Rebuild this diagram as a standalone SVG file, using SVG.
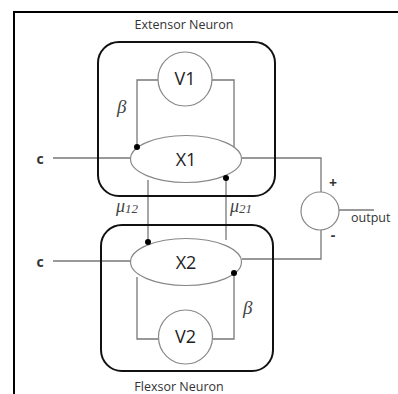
<svg xmlns="http://www.w3.org/2000/svg" width="398" height="394" viewBox="0 0 398 394">
<style>
.frame{fill:none;stroke:#000;stroke-width:2}
.box{fill:none;stroke:#111;stroke-width:2}
.shape{fill:#fff;stroke:#888;stroke-width:1.2}
.wire{fill:none;stroke:#777;stroke-width:1.3}
.dot{fill:#000}
.lbl{font-family:"Open Sans","Liberation Sans",sans-serif;fill:#333}
.node{font-family:"Open Sans","Liberation Sans",sans-serif;fill:#222;font-size:18px;text-anchor:middle}
.greek{font-family:"Liberation Serif",serif;font-style:italic;fill:#444}
</style>
<rect width="398" height="394" fill="#fff"/>
<path class="frame" d="M14,394 V12 H398"/>

<g id="connectors">
  <polyline class="wire" points="158,80 137,80 137,147"/>
  <polyline class="wire" points="212,80 234,80 234,148"/>
  <line class="wire" x1="53" y1="158" x2="131" y2="158"/>
  <line class="wire" x1="53" y1="261" x2="131" y2="261"/>
  <polyline class="wire" points="242,158 321,158 321,192"/>
  <polyline class="wire" points="242,259 321,259 321,230"/>
  <line class="wire" x1="148" y1="180" x2="148" y2="242"/>
  <line class="wire" x1="226" y1="178" x2="226" y2="240"/>
  <polyline class="wire" points="137,277 137,339 158,339"/>
  <polyline class="wire" points="234,273 234,339 213,339"/>
  <line class="wire" x1="339" y1="210" x2="374" y2="210"/>
</g>

<g id="extensor">
  <rect class="box" x="98" y="42" width="177" height="154" rx="21"/>
  <text class="lbl" x="184" y="29" font-size="12.5" text-anchor="middle">Extensor Neuron</text>
</g>
<g id="flexsor">
  <rect class="box" x="101" y="225" width="172" height="146" rx="21"/>
  <text class="lbl" x="179" y="391" font-size="12.5" text-anchor="middle">Flexsor Neuron</text>
</g>

<g id="V1">
  <circle class="shape" cx="185" cy="79" r="27"/>
  <text class="node" x="185" y="85">V1</text>
</g>
<g id="X1">
  <ellipse class="shape" cx="186" cy="159" rx="55.5" ry="23.5"/>
  <text class="node" x="186" y="166">X1</text>
</g>
<g id="X2">
  <ellipse class="shape" cx="186" cy="262" rx="55.5" ry="23.5"/>
  <text class="node" x="186" y="269">X2</text>
</g>
<g id="V2">
  <circle class="shape" cx="185.5" cy="337" r="27"/>
  <text class="node" x="185.5" y="343">V2</text>
</g>
<g id="sum">
  <circle class="shape" cx="320" cy="211" r="19"/>
  <text class="lbl" x="333" y="188" font-size="14" font-weight="bold" text-anchor="middle">+</text>
  <text class="lbl" x="333" y="240" font-size="14" font-weight="bold" text-anchor="middle">-</text>
  <text class="lbl" x="351" y="222" font-size="12.5">output</text>
</g>

<g id="dots">
  <circle class="dot" cx="137" cy="147" r="3"/>
  <circle class="dot" cx="226" cy="178" r="3"/>
  <circle class="dot" cx="148" cy="242" r="3"/>
  <circle class="dot" cx="234" cy="273" r="3"/>
</g>

<g id="labels">
  <text class="lbl" x="40" y="164" font-size="14" font-weight="bold" text-anchor="middle">c</text>
  <text class="lbl" x="40" y="267" font-size="14" font-weight="bold" text-anchor="middle">c</text>
  <text class="greek" x="117" y="113" font-size="19">β</text>
  <text class="greek" x="243" y="314" font-size="19">β</text>
  <text class="greek" x="116" y="212" font-size="18">μ<tspan font-size="13" dy="1">12</tspan></text>
  <text class="greek" x="230" y="212" font-size="18">μ<tspan font-size="13" dy="1">21</tspan></text>
</g>
</svg>
